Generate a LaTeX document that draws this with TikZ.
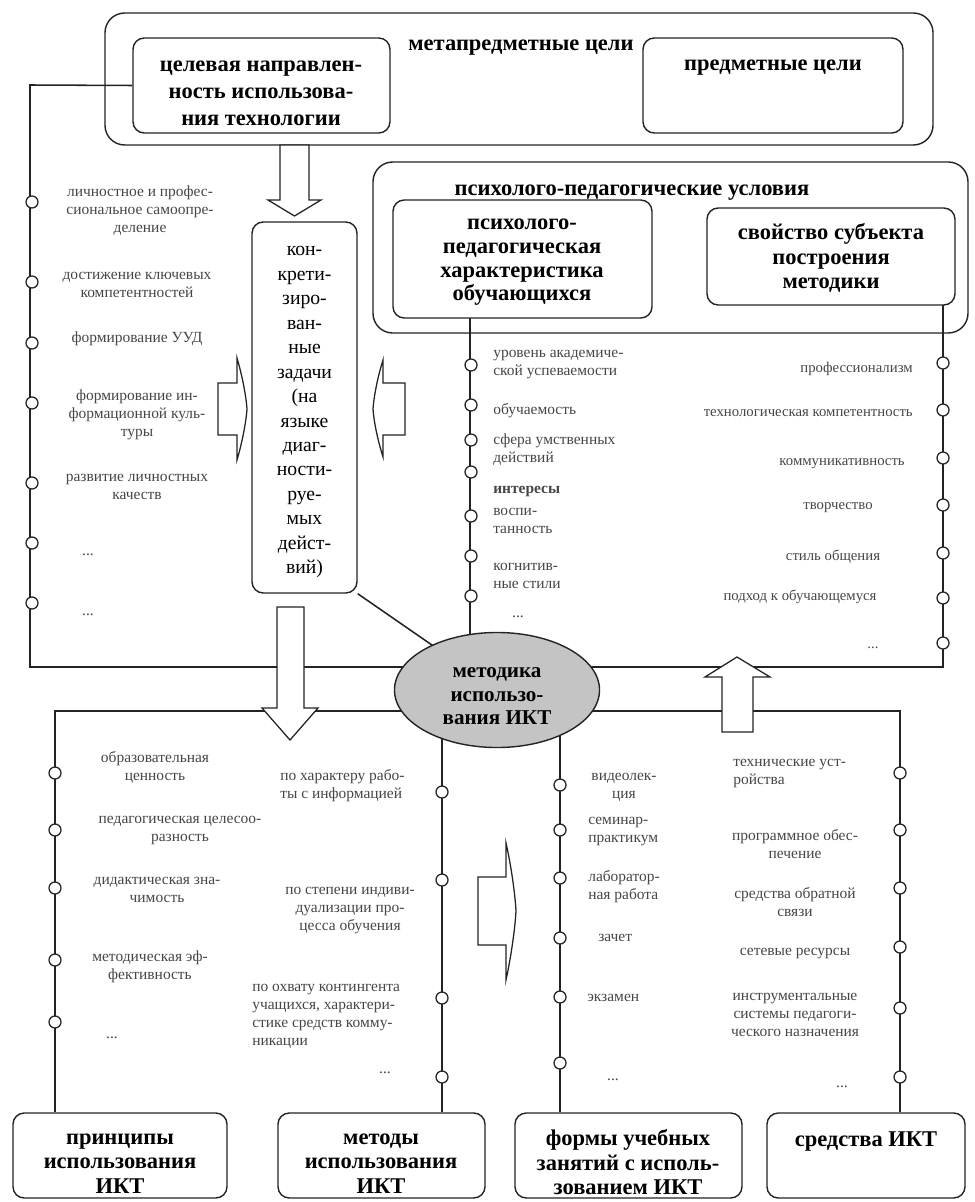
\documentclass[tikz,border=0pt]{standalone}
\usepackage{fontspec}
\setmainfont{Liberation Serif}
\usepackage{xcolor}
\definecolor{Ink}{RGB}{35,35,35}
\definecolor{Txt}{RGB}{70,70,70}
\definecolor{Oval}{RGB}{196,196,196}
\usetikzlibrary{shapes.geometric}
\usetikzlibrary{fit}
\usetikzlibrary{backgrounds}
\tikzstyle{Box}=[draw=Ink,rounded corners=8pt,line width=1pt,inner sep=0pt]
\tikzstyle{BigBox}=[Box,rounded corners=14pt]
\tikzstyle{Head}=[align=center,inner sep=0pt,yshift=-3pt,
font=\bfseries\fontsize{16}{19}\selectfont]
\tikzstyle{Item}=[align=center,inner sep=0pt,text=Txt,font=\fontsize{11}{12.8}\selectfont]
\tikzstyle{ItemS}=[Item,font=\fontsize{10.5}{12}\selectfont]
\tikzstyle{Dot}=[circle,draw=Ink,fill=white,line width=0.9pt,inner sep=0pt,
minimum size=3mm]
\tikzstyle{Edge}=[draw=Ink,line width=1.1pt]
\tikzstyle{Arrow}=[draw=Ink,fill=white,line width=0.9pt,line join=miter]
\tikzstyle{OvalNode}=[ellipse,draw=Ink,fill=Oval,line width=1pt,inner sep=0pt,
minimum width=5.125cm,minimum height=2.875cm]

\begin{document}
\begin{tikzpicture}[x=0.025cm,y=-0.025cm]
    \useasboundingbox(0,0)rectangle(974,1202);
    % goals
    \node[BigBox,fit={(105,13)(933,145)}](meta){};
    \node[Head](metaT)at(521,43){метапредметные цели};
    \node[Box,fit={(133,38)(390,133)}](goal){};
    \node[Head](goalT)at(261,89){целевая направлен-\\ность использова-\\ния технологии};
    \node[Box,fit={(643,38)(903,133)}](subj){};
    \node[Head](subjT)at(773,63){предметные цели};
    % tasks
    \node[Box,fit={(252,222)(357,593)}](task){};
    \node[Head,font=\fontsize{14}{17.4}\selectfont](taskT)at(304.5,408)
        {кон-\\крети-\\зиро-\\ван-\\ные\\задачи\\(на\\языке\\диаг-\\ности-\\руе-\\мых\\дейст-\\вий)};
    % conditions
    \node[BigBox,fit={(373,162)(968,333)}](psy){};
    \node[Head](psyT)at(632,188){психолого-педагогические условия};
    \node[Box,fit={(393,200)(652,318)}](pupil){};
    \node[Head,font=\bfseries\fontsize{16}{17}\selectfont](pupilT)at(522,258)
        {психолого-\\педагогическая\\характеристика\\обучающихся};
    \node[Box,fit={(707,208)(955,305)}](prop){};
    \node[Head,font=\bfseries\fontsize{16}{17.5}\selectfont](propT)at(831,254)
        {свойство субъекта\\построения\\методики};
    % method
    \node[OvalNode](ict)at(497,690){};
    \node[Head,font=\bfseries\fontsize{15}{16.8}\selectfont](ictT)at(497,692)
        {методика\\использо-\\вания ИКТ};
    % bottom boxes
    \node[Box,fit={(13,1113)(227,1198)}](princ){};
    \node[Head,font=\bfseries\fontsize{16}{17.4}\selectfont](princT)at(120,1159)
        {принципы\\использования\\ИКТ};
    \node[Box,fit={(278,1113)(485,1198)}](meth){};
    \node[Head,font=\bfseries\fontsize{16}{17.4}\selectfont](methT)at(381,1159)
        {методы\\использования\\ИКТ};
    \node[Box,fit={(515,1113)(742,1198)}](form){};
    \node[Head,font=\bfseries\fontsize{16}{17.4}\selectfont](formT)at(628,1158)
        {формы учебных\\занятий с исполь-\\зованием ИКТ};
    \node[Box,fit={(767,1113)(965,1198)}](tool){};
    \node[Head](toolT)at(866,1137){средства ИКТ};
    % corners
    \coordinate(gL)at(30,85);
    \coordinate(gB)at(30,667);
    \coordinate(pT)at(470,318);
    \coordinate(rT)at(943,305);
    \coordinate(rB)at(943,667);
    \coordinate(bL)at(55,711);
    \coordinate(bR)at(900,711);
    \coordinate(mT)at(442,690);
    \coordinate(fT)at(560,690);
    \begin{pgfonlayer}{background}
        \draw[Edge](goal.west)--(gL)--(gB)--(gB-|ict.center);
        \draw[Edge](pT)--(pT|-ict.center);
        \draw[Edge](rT)--(rB)--(rB-|ict.center);
        \draw[Edge](task.south east)--(ict.center);
        \draw[Edge](bL-|ict.center)--(bL)--(bL|-princ.north);
        \draw[Edge](bR-|ict.center)--(bR)--(bR|-tool.north);
        \draw[Edge](mT)--(mT|-meth.north);
        \draw[Edge](fT)--(fT|-form.north);
    \end{pgfonlayer}
    % block arrows
    \draw[Arrow](280,145)--(309,145)--(309,200)--(321,200)--(294.5,216)
        --(268,200)--(280,200)--cycle;
    \draw[Arrow](277,607)--(304,607)--(304,708)--(318,708)--(290,740)
        --(262,708)--(277,708)--cycle;
    \draw[Arrow](722,732)--(753,732)--(753,677)--(770,677)--(737,657)
        --(705,677)--(722,677)--cycle;
    \draw[Arrow](218,383)--(237,383)--(237,358)
        ..controls(242,375)and(246,395)..(247,409)
        ..controls(246,423)and(242,443)..(237,460)
        --(237,435)--(218,435)--cycle;
    \draw[Arrow](405,383)--(383,383)--(383,360)
        ..controls(378,376)and(374,395)..(373,409)
        ..controls(374,423)and(378,441)..(383,457)
        --(383,435)--(405,435)--cycle;
    \draw[Arrow](478,877)--(506,877)--(506,843)
        ..controls(511,865)and(515,893)..(516,911)
        ..controls(515,929)and(511,957)..(506,980)
        --(506,945)--(478,945)--cycle;
    % dots on the lines
    \node[Dot](g1)at(32,202){};
    \node[Dot](g2)at(32,282){};
    \node[Dot](g3)at(32,343){};
    \node[Dot](g4)at(32,403){};
    \node[Dot](g5)at(32,483){};
    \node[Dot](g6)at(32,543){};
    \node[Dot](g7)at(32,603){};
    \node[Dot](p1)at(471,365){};
    \node[Dot](p2)at(471,405){};
    \node[Dot](p3)at(471,440){};
    \node[Dot](p4)at(471,472){};
    \node[Dot](p5)at(471,516){};
    \node[Dot](p6)at(471,556){};
    \node[Dot](p7)at(471,596){};
    \node[Dot](r1)at(943,363){};
    \node[Dot](r2)at(943,410){};
    \node[Dot](r3)at(943,458){};
    \node[Dot](r4)at(943,505){};
    \node[Dot](r5)at(943,553){};
    \node[Dot](r6)at(943,598){};
    \node[Dot](r7)at(943,643){};
    \node[Dot](b1)at(55,773){};
    \node[Dot](b2)at(55,830){};
    \node[Dot](b3)at(55,888){};
    \node[Dot](b4)at(55,960){};
    \node[Dot](b5)at(55,1022){};
    \node[Dot](m1)at(442,792){};
    \node[Dot](m2)at(442,880){};
    \node[Dot](m3)at(442,998){};
    \node[Dot](m4)at(442,1077){};
    \node[Dot](f1)at(560,785){};
    \node[Dot](f2)at(560,830){};
    \node[Dot](f3)at(560,878){};
    \node[Dot](f4)at(560,938){};
    \node[Dot](f5)at(560,997){};
    \node[Dot](f6)at(560,1063){};
    \node[Dot](t1)at(900,773){};
    \node[Dot](t2)at(900,830){};
    \node[Dot](t3)at(900,888){};
    \node[Dot](t4)at(900,947){};
    \node[Dot](t5)at(900,1008){};
    \node[Dot](t6)at(900,1077){};
    % labels: goals
    \node[Item](gt1)at(140,211){личностное и профес-\\сиональное самоопре-\\деление};
    \node[Item](gt2)at(137,285){достижение ключевых\\компетентностей};
    \node[Item](gt3)at(137,339){формирование УУД};
    \node[Item](gt4)at(137,415){формирование ин-\\формационной куль-\\туры};
    \node[Item](gt5)at(137,487){развитие личностных\\качеств};
    \node[Item](gt6)at(88,555){...};
    \node[Item](gt7)at(88,615){...};
    % labels: pupils
    \node[Item,anchor=west,align=left](pt1)at(493,365){уровень академиче-\\ской успеваемости};
    \node[Item,anchor=west](pt2)at(493,411){обучаемость};
    \node[Item,anchor=west,align=left](pt3)at(493,450){сфера умственных\\действий};
    \node[Item,anchor=west,font=\bfseries\fontsize{11}{12.8}\selectfont](pt4)at(493,491){интересы};
    \node[Item,anchor=west,align=left](pt5)at(493,521){воспи-\\танность};
    \node[Item,anchor=west,align=left](pt6)at(493,576){когнитив-\\ные стили};
    \node[Item](pt7)at(518,617){...};
    % labels: subject of the method
    \node[ItemS,anchor=east](rt1)at(913,369){профессионализм};
    \node[ItemS,anchor=east](rt2)at(913,413){технологическая компетентность};
    \node[ItemS,anchor=east](rt3)at(905,464){коммуникативность};
    \node[ItemS](rt4)at(838,508){творчество};
    \node[ItemS](rt5)at(833,557){стиль общения};
    \node[ItemS](rt6)at(800,597){подход к обучающемуся};
    \node[ItemS](rt7)at(873,648){...};
    % labels: principles
    \node[Item](bt1)at(155,767){образовательная\\ценность};
    \node[Item](bt2)at(180,830){педагогическая целесоо-\\разность};
    \node[Item](bt3)at(157,890){дидактическая зна-\\чимость};
    \node[Item](bt4)at(150,967){методическая эф-\\фективность};
    \node[Item](bt5)at(112,1038){...};
    % labels: methods
    \node[Item,anchor=west,align=left](mt1)at(280,786){по характеру рабо-\\ты с информацией};
    \node[Item](mt2)at(350,911){по степени индиви-\\дуализации про-\\цесса обучения};
    \node[Item,anchor=west,align=left](mt3)at(252,1016){по охвату контингента\\учащихся, характери-\\стике средств комму-\\никации};
    \node[Item](mt4)at(385,1073){...};
    % labels: forms
    \node[Item](ft1)at(624,787){видеолек-\\ция};
    \node[Item,anchor=west,align=left](ft2)at(588,832){семинар-\\практикум};
    \node[Item,anchor=west,align=left](ft3)at(588,887){лаборатор-\\ная работа};
    \node[Item,anchor=west](ft4)at(598,938){зачет};
    \node[Item,anchor=west](ft5)at(587,998){экзамен};
    \node[Item](ft6)at(613,1080){...};
    % labels: tools
    \node[Item,anchor=west,align=left](tt1)at(733,773){технические уст-\\ройства};
    \node[Item](tt2)at(795,844){программное обес-\\печение};
    \node[Item](tt3)at(795,902){средства обратной\\связи};
    \node[Item](tt4)at(795,954){сетевые ресурсы};
    \node[Item](tt5)at(795,1015){инструментальные\\системы педагоги-\\ческого назначения};
    \node[Item](tt6)at(842,1087){...};
\end{tikzpicture}
\end{document}
